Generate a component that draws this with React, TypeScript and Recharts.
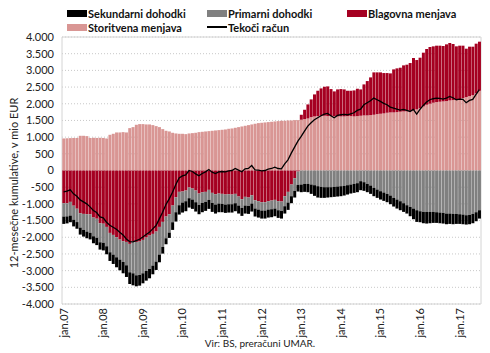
import React from 'react';
import { ComposedChart, Bar, Line, XAxis, YAxis, CartesianGrid, ReferenceArea } from 'recharts';

const years = ['07', '08', '09', '10', '11', '12', '13', '14', '15', '16', '17'];
const monthNames = ['jan', 'feb', 'mar', 'apr', 'maj', 'jun', 'jul', 'avg', 'sep', 'okt', 'nov', 'dec'];
const months = years.flatMap((y) => monthNames.map((m) => `${m}.${y}`)).slice(0, 127);

// 12-mesečne kumulative, mio EUR
const storitvena = [
  960, 965, 970, 975, 975, 1040, 1040, 1030, 975, 980, 975, 980,
  975, 960, 1070, 1100, 1140, 1140, 1150, 1140, 1270, 1300, 1370, 1390,
  1390, 1380, 1380, 1360, 1330, 1300, 1240, 1190, 1170, 1130, 1110, 1100,
  1100, 1090, 1110, 1120, 1130, 1150, 1160, 1170, 1180, 1190, 1200, 1210,
  1220, 1230, 1250, 1260, 1280, 1300, 1320, 1340, 1360, 1380, 1400, 1420,
  1430, 1440, 1450, 1460, 1470, 1480, 1490, 1490, 1500, 1500, 1510, 1510,
  1520, 1540, 1560, 1600, 1620, 1630, 1640, 1640, 1630, 1630, 1630, 1620,
  1620, 1620, 1630, 1630, 1620, 1630, 1640, 1650, 1650, 1660, 1670, 1690,
  1700, 1710, 1730, 1740, 1740, 1750, 1760, 1770, 1770, 1790, 1810, 1830,
  1870, 1920, 1970, 2000, 2030, 2050, 2060, 2070, 2080, 2100, 2110, 2120,
  2140, 2170, 2200, 2230, 2260, 2310, 2390,
];

const blagovna = [
  -980, -985, -940, -1055, -1145, -1280, -1300, -1310, -1315, -1410, -1445, -1580,
  -1595, -1690, -1870, -1930, -2000, -2070, -2120, -2140, -2200, -2130, -2140, -2130,
  -2080, -2010, -1950, -1900, -1830, -1690, -1540, -1380, -1310, -1050, -800, -640,
  -630, -600, -510, -540, -600, -690, -650, -640, -580, -670, -710, -690,
  -700, -720, -710, -720, -700, -780, -860, -790, -810, -740, -890, -920,
  -950, -950, -920, -900, -880, -920, -930, -770, -640, -420, -230, -30,
  150, 280, 420, 530, 660, 760, 820, 870, 890, 810, 740, 810,
  820, 810, 760, 760, 780, 820, 790, 930, 1030, 1130, 1270, 1250,
  1240, 1210, 1190, 1170, 1290, 1310, 1320, 1380, 1400, 1430, 1560, 1480,
  1510, 1610, 1670, 1700, 1690, 1690, 1680, 1660, 1700, 1720, 1680, 1600,
  1600, 1570, 1450, 1480, 1450, 1490, 1470,
];

const primarni = [
  -400, -390, -410, -420, -400, -430, -480, -520, -550, -560, -570, -570,
  -570, -580, -580, -590, -600, -600, -620, -700, -850, -950, -1000, -1000,
  -1000, -1000, -1000, -950, -900, -830, -750, -650, -550, -500, -450, -400,
  -330, -320, -320, -330, -350, -340, -320, -300, -300, -300, -310, -300,
  -300, -300, -300, -290, -280, -270, -260, -260, -250, -250, -250, -250,
  -250, -250, -250, -260, -260, -270, -280, -300, -320, -350, -380, -400,
  -420, -400, -400, -420, -440, -470, -490, -500, -500, -500, -490, -480,
  -470, -460, -440, -420, -400, -380, -320, -350, -400, -450, -520, -570,
  -620, -660, -700, -750, -820, -870, -920, -980, -1040, -1090, -1140, -1190,
  -1220, -1240, -1240, -1240, -1240, -1250, -1260, -1270, -1290, -1290, -1300, -1300,
  -1310, -1320, -1340, -1330, -1300, -1250, -1190,
];

const sekundarni = [
  -220, -210, -200, -200, -200, -210, -200, -200, -200, -210, -220, -220,
  -230, -240, -260, -280, -300, -320, -340, -350, -350, -360, -330, -320,
  -300, -290, -280, -260, -250, -230, -200, -180, -160, -230, -280, -280,
  -300, -300, -280, -280, -280, -280, -280, -270, -270, -270, -270, -260,
  -250, -250, -250, -250, -240, -240, -240, -240, -240, -240, -240, -240,
  -240, -240, -240, -240, -230, -230, -230, -220, -220, -210, -200, -200,
  -230, -240, -250, -280, -320, -340, -330, -320, -310, -300, -300, -300,
  -300, -290, -280, -270, -270, -270, -270, -260, -250, -250, -250, -250,
  -250, -250, -250, -260, -260, -270, -270, -260, -250, -280, -320, -350,
  -330, -340, -350, -340, -330, -320, -320, -320, -320, -310, -310, -300,
  -290, -290, -280, -280, -280, -270, -250,
];

const tekoci = [
  -640, -620, -580, -700, -770, -880, -940, -1000, -1090, -1200, -1260, -1390,
  -1420, -1550, -1640, -1700, -1760, -1850, -1930, -2050, -2130, -2140, -2100, -2060,
  -1990, -1920, -1850, -1750, -1650, -1450, -1250, -1020, -850, -650, -420, -220,
  -160, -130, 0, -30, -100, -160, -90, -40, 30, -50, -90, -40,
  -30, -40, -10, 0, 60, 10, -40, 50, 60, 150, 20, 10,
  -10, 0, 40, 60, 100, 60, 50, 200, 320, 520, 700, 880,
  1020, 1180, 1330, 1430, 1520, 1580, 1640, 1690, 1710, 1640, 1580, 1650,
  1670, 1680, 1670, 1700, 1730, 1800, 1840, 1970, 2030, 2090, 2170, 2120,
  2070, 2010, 1970, 1900, 1870, 1840, 1810, 1830, 1800, 1770, 1830, 1690,
  1830, 1950, 2050, 2120, 2150, 2170, 2160, 2140, 2170, 2220, 2180, 2120,
  2140, 2130, 2030, 2100, 2130, 2280, 2420,
];

const yTicks = [-4000, -3500, -3000, -2500, -2000, -1500, -1000, -500, 0, 500, 1000, 1500, 2000, 2500, 3000, 3500, 4000];

const data = months.map((m, i) => ({
  m,
  stor: storitvena[i],
  blag: blagovna[i],
  prim: primarni[i],
  sek: sekundarni[i],
  tr: tekoci[i],
}));

const FONT = 'Lato, "Open Sans", sans-serif';

const fmt = (v: number) => {
  const s = Math.abs(v).toString();
  const t = s.length > 3 ? s.slice(0, -3) + '.' + s.slice(-3) : s;
  return (v < 0 ? '-' : '') + t;
};

const XTick = (props: any) => {
  const { x, y, payload } = props;
  return (
    <text
      x={x}
      y={y}
      dy={4}
      transform={`rotate(-90 ${x} ${y})`}
      textAnchor="end"
      fontSize={11}
      fontFamily={FONT}
      fill="#222"
    >
      {payload.value}
    </text>
  );
};

const legendRows = [
  [
    { label: 'Sekundarni dohodki', color: '#000000', x: 67 },
    { label: 'Primarni dohodki', color: '#808080', x: 207 },
    { label: 'Blagovna menjava', color: '#a50021', x: 347 },
  ],
  [
    { label: 'Storitvena menjava', color: '#d99694', x: 67 },
    { label: 'Tekoči račun', color: '#000000', x: 207, line: true },
  ],
];

export default function App() {
  return (
    <div style={{ position: 'absolute', left: 0, top: 0, width: 490, height: 353, background: '#fff', fontFamily: FONT }}>
      {legendRows.map((row, r) =>
        row.map((it) => (
          <div
            key={it.label}
            style={{ position: 'absolute', left: it.x, top: r === 0 ? 6 : 20, height: 14, display: 'flex', alignItems: 'center' }}
          >
            {it.line ? (
              <div style={{ width: 20, height: 1.5, background: it.color }} />
            ) : (
              <div style={{ width: 20, height: 7, background: it.color }} />
            )}
            <span style={{ marginLeft: 1, fontSize: 11, fontWeight: 700, color: '#111', whiteSpace: 'nowrap' }}>{it.label}</span>
          </div>
        ))
      )}
      <div
        style={{
          position: 'absolute',
          left: 13,
          top: 183,
          transform: 'translate(-50%, -50%) rotate(-90deg)',
          fontSize: 11,
          color: '#222',
          whiteSpace: 'nowrap',
        }}
      >
        12-mesečne kumulative, v mio EUR
      </div>
      <div style={{ position: 'absolute', left: 0, width: 520, top: 337, textAlign: 'center', fontSize: 10, color: '#222' }}>
        Vir: BS, preračuni UMAR.
      </div>
      <div style={{ position: 'absolute', left: 0, top: 0 }}>
        <ComposedChart
          width={490}
          height={353}
          data={data}
          stackOffset="sign"
          barCategoryGap="8%"
          margin={{ top: 37, right: 9, bottom: 0, left: 0 }}
        >
          <CartesianGrid vertical={false} stroke="#c8c8c8" strokeDasharray="1 2" />
          <XAxis
            dataKey="m"
            interval={11}
            tickLine={false}
            axisLine={false}
            tickSize={0}
            tickMargin={4}
            height={49}
            tick={<XTick />}
          />
          <YAxis
            width={62}
            domain={[-4000, 4000]}
            ticks={yTicks}
            tickFormatter={fmt}
            tickLine={false}
            axisLine={false}
            tickSize={0}
            tickMargin={8}
            tick={{ fontSize: 11, fill: '#222', fontFamily: FONT }}
            interval={0}
          />
          <ReferenceArea y1={-4000} y2={4000} fill="none" stroke="#d4d4d4" strokeWidth={1} />
          <Bar dataKey="stor" stackId="a" fill="#d99694" isAnimationActive={false} />
          <Bar dataKey="blag" stackId="a" fill="#a50021" isAnimationActive={false} />
          <Bar dataKey="prim" stackId="a" fill="#808080" isAnimationActive={false} />
          <Bar dataKey="sek" stackId="a" fill="#000000" isAnimationActive={false} />
          <Line dataKey="tr" type="linear" stroke="#000" strokeWidth={1.3} dot={false} isAnimationActive={false} />
        </ComposedChart>
      </div>
    </div>
  );
}
